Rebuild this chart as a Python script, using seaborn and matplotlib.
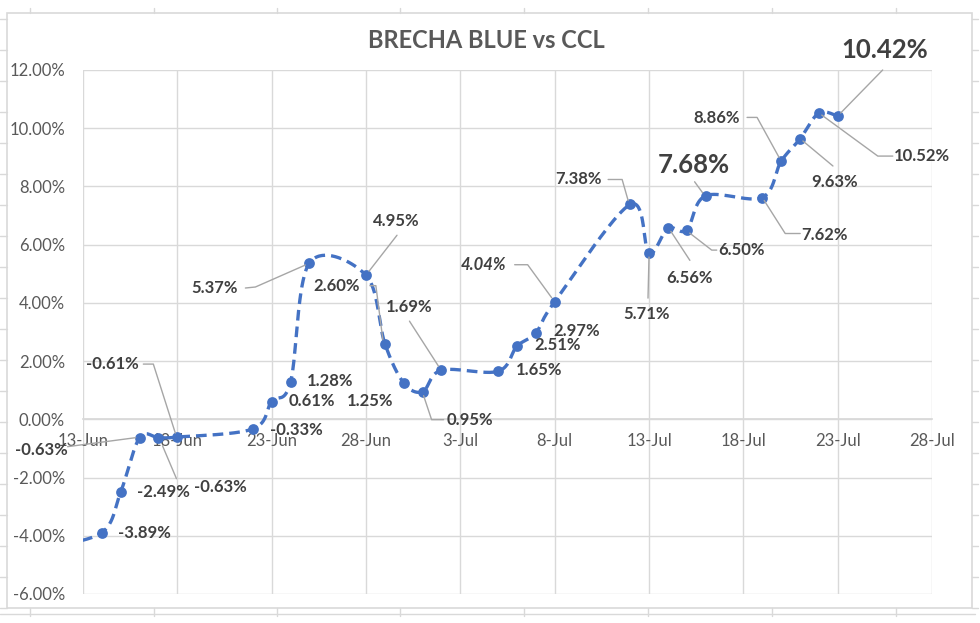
import numpy as np
import pandas as pd
import matplotlib
matplotlib.use("Agg")
import matplotlib.pyplot as plt
import matplotlib.dates as mdates
import matplotlib.transforms as mtrans
from matplotlib.lines import Line2D
from matplotlib.patches import Rectangle
from matplotlib.ticker import FuncFormatter, FixedLocator
import seaborn as sns

# ---------------- data ----------------
title = "BRECHA BLUE vs CCL"
dates = ["2021-06-11", "2021-06-14", "2021-06-15", "2021-06-16", "2021-06-17", "2021-06-18",
         "2021-06-22", "2021-06-23", "2021-06-24", "2021-06-25",
         "2021-06-28", "2021-06-29", "2021-06-30", "2021-07-01", "2021-07-02",
         "2021-07-05", "2021-07-06", "2021-07-07", "2021-07-08",
         "2021-07-12", "2021-07-13", "2021-07-14", "2021-07-15", "2021-07-16",
         "2021-07-19", "2021-07-20", "2021-07-21", "2021-07-22", "2021-07-23"]
brecha = [-4.40, -3.89, -2.49, -0.63, -0.63, -0.61,
          -0.33, 0.61, 1.28, 5.37,
          4.95, 2.60, 1.25, 0.95, 1.69,
          1.65, 2.51, 2.97, 4.04,
          7.38, 5.71, 6.56, 6.50, 7.68,
          7.62, 8.86, 9.63, 10.52, 10.42]
x_tick_dates = ["2021-06-13", "2021-06-18", "2021-06-23", "2021-06-28", "2021-07-03",
                "2021-07-08", "2021-07-13", "2021-07-18", "2021-07-23", "2021-07-28"]
y_ticks = [-6, -4, -2, 0, 2, 4, 6, 8, 10, 12]

# label placement (pixel offsets from the point, y downward) and leader vertices
label_pos = [None, (43, 0), (43, 0), (-98, 12), (62, 49), (-65, -73),
             (44, 1), (40, -1), (40, -1), (-95, 25),
             (30, -54), (-48, -58), (-34, 18), (47, 28), (-32, -63),
             (41, -1), (41, -1), (41, -2), (-71, -37),
             (-52, -25), (-2, 61), (22, 50), (55, 20), (-12, -31),
             (62, 37), (-64, -43), (35, 43), (103, 43), (47, -66)]
leaders = [None, None, None, [(-72, 9), (-4, 0)], [(18, 41), (4, 8)], [(-34, -73), (-24, -73), (-2, -4)],
           None, None, None, [(-64, 25), (-54, 24), (-4, 2)],
           [(31, -40), (3, -4)], [(-15, -58), (-9, -58), (-2, -4)], None,
           [(21, 28), (9, 28), (1, 4)], [(-32, -49), (-3, -4)],
           None, None, None, [(-40, -37), (-27, -37), (-3, -4)],
           [(-22, -25), (-8, -25), (-2, -4)], [(-1, 45), (0, 4)], [(22, 32), (3, 3)],
           [(30, 20), (25, 20), (3, 3)], [(-11, -14), (-3, -3)],
           [(38, 36), (23, 36), (2, 3)], [(-34, -44), (-24, -44), (-2, -4)],
           [(33, 27), (3, 2)], [(74, 43), (59, 43), (3, 2)], [(45, -46), (3, -3)]]
big_labels = {23, 28}
italic_labels = {18}

# ---------------- style ----------------
sns.set_theme(style="white")
plt.rcParams["font.family"] = ["Lato", "DejaVu Sans"]
BLUE = "#4472C4"
GRID = "#D9D9D9"
TICK = "#595959"
LAB = "#404040"

W, H = 980, 623
fig = plt.figure(figsize=(W / 100, H / 100), dpi=100)
ax = fig.add_axes([83 / W, 1 - 594 / H, (932 - 83) / W, (594 - 70) / H])

xd = mdates.date2num(pd.to_datetime(dates))
yv = np.array(brecha, dtype=float)

# Excel-like smoothed line (Catmull-Rom Bezier through the data points)
px = np.concatenate([[xd[0]], xd, [xd[-1]]])
py = np.concatenate([[yv[0]], yv, [yv[-1]]])
sx, sy = [], []
t = np.linspace(0, 1, 40)
for i in range(1, len(px) - 2):
    p0 = np.array([px[i - 1], py[i - 1]]); p1 = np.array([px[i], py[i]])
    p2 = np.array([px[i + 1], py[i + 1]]); p3 = np.array([px[i + 2], py[i + 2]])
    c1 = p1 + (p2 - p0) / 6.0
    c2 = p2 - (p3 - p1) / 6.0
    seg = ((1 - t) ** 3)[:, None] * p1 + (3 * (1 - t) ** 2 * t)[:, None] * c1 \
        + (3 * (1 - t) * t ** 2)[:, None] * c2 + (t ** 3)[:, None] * p2
    sx.extend(seg[:, 0]); sy.extend(seg[:, 1])
curve = pd.DataFrame({"x": sx, "y": sy})
pts = pd.DataFrame({"x": xd, "y": yv})

sns.lineplot(data=curve, x="x", y="y", sort=False, estimator=None, ax=ax,
             color=BLUE, linewidth=2.4, linestyle=(0, (3.2, 1.8)), zorder=3)
sns.scatterplot(data=pts, x="x", y="y", ax=ax, color=BLUE, s=60, edgecolor=BLUE,
                linewidth=0, zorder=4)

# axes
xt = mdates.date2num(pd.to_datetime(x_tick_dates))
ax.set_xlim(xt[0], xt[-1])
ax.set_ylim(y_ticks[0], y_ticks[-1])
ax.xaxis.set_major_locator(FixedLocator(xt))
ax.yaxis.set_major_locator(FixedLocator(y_ticks))
ax.xaxis.set_major_formatter(FuncFormatter(
    lambda v, p: f"{mdates.num2date(v).day}-{mdates.num2date(v).strftime('%b')}"))
ax.yaxis.set_major_formatter(FuncFormatter(lambda v, p: f"{v:.2f}%"))
ax.grid(True, color=GRID, linewidth=1.0)
for s in ["top", "right", "left"]:
    ax.spines[s].set_visible(False)
ax.spines["bottom"].set_position(("data", 0))
ax.spines["bottom"].set_color(GRID)
ax.tick_params(axis="x", length=0, pad=10, labelsize=12, labelcolor=TICK)
ax.tick_params(axis="y", length=0, pad=13, labelsize=12, labelcolor=TICK)
ax.set_xlabel(""); ax.set_ylabel("")
ax.set_axisbelow(True)

# data labels with leader lines
for i, pos in enumerate(label_pos):
    if pos is None:
        continue
    trans = mtrans.Affine2D().scale(1, -1) + mtrans.ScaledTranslation(xd[i], yv[i], ax.transData)
    if leaders[i] is not None:
        lx = [p[0] for p in leaders[i]]
        ly = [p[1] for p in leaders[i]]
        fig.add_artist(Line2D(lx, ly, transform=trans, color="#A6A6A6", lw=1.0, zorder=2))
    big = i in big_labels
    ax.text(pos[0], pos[1], f"{yv[i]:.2f}%", transform=trans, ha="center", va="center",
            fontsize=18.5 if big else 12, fontweight="bold", color=LAB,
            fontstyle="italic" if i in italic_labels else "normal", zorder=5, clip_on=False)

# title
fig.text(486 / W, 1 - 41 / H, title, ha="center", va="center", fontsize=17,
         fontweight="bold", color=TICK)

# chart border and sheet decorations
fig.add_artist(Rectangle((7 / W, 1 - 608 / H), (972 - 7) / W, (608 - 13) / H,
                         transform=fig.transFigure, fill=False, ec=GRID, lw=1.2))
for xx in [30, 154, 277, 400, 524, 648, 772, 896]:
    fig.add_artist(Line2D([xx / W, xx / W], [1 - 8 / H, 1 - 13 / H], transform=fig.transFigure,
                          color=GRID, lw=1))
    fig.add_artist(Line2D([xx / W, xx / W], [1 - 608 / H, 1 - 616 / H], transform=fig.transFigure,
                          color=GRID, lw=1))
fig.add_artist(Line2D([0, 975 / W], [1 - 614 / H, 1 - 614 / H], transform=fig.transFigure,
                      color=GRID, lw=1))
for yy in range(19, 610, 31):
    fig.add_artist(Line2D([0, 7 / W], [1 - yy / H, 1 - yy / H], transform=fig.transFigure,
                          color=GRID, lw=1))
    fig.add_artist(Line2D([972 / W, 978 / W], [1 - yy / H, 1 - yy / H], transform=fig.transFigure,
                          color=GRID, lw=1))

fig.savefig("out.png", dpi=100)
